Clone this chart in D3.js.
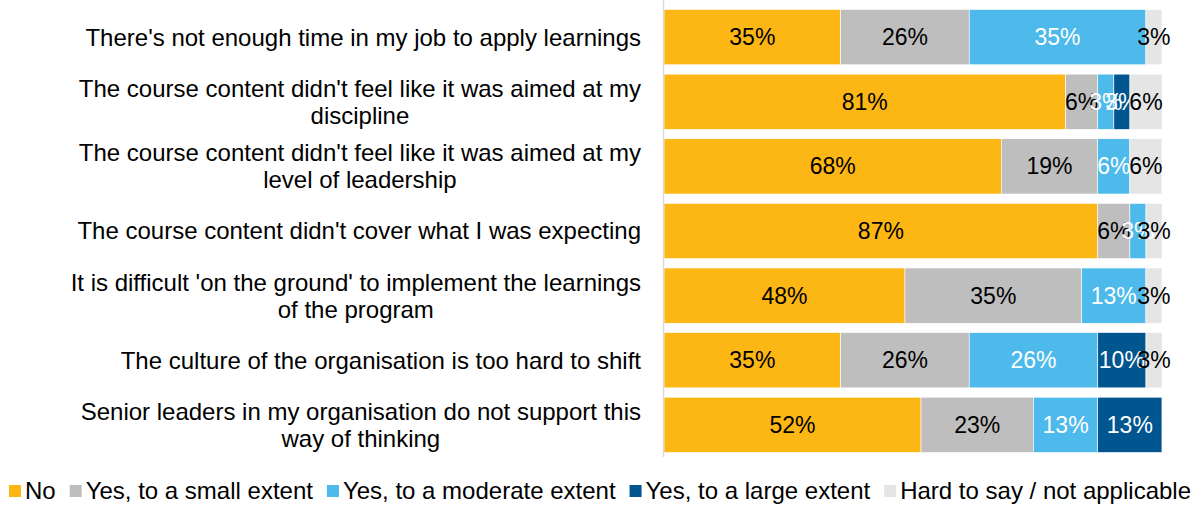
<!DOCTYPE html>
<html>
<head>
<meta charset="utf-8">
<script src="https://cdn.jsdelivr.net/npm/d3@7"></script>
<style>
  body { margin: 0; background: #fff; }
  text { font-family: "Liberation Sans", Arial, sans-serif; }
</style>
</head>
<body>
<svg></svg>
<script>
var width = 1204, height = 507;

// categories (top to bottom)
var categories = [
  "There's not enough time in my job to apply learnings",
  "The course content didn't feel like it was aimed at my discipline",
  "The course content didn't feel like it was aimed at my level of leadership",
  "The course content didn't cover what I was expecting",
  "It is difficult 'on the ground' to implement the learnings of the program",
  "The culture of the organisation is too hard to shift",
  "Senior leaders in my organisation do not support this way of thinking"
];
var seriesNames = ["No", "Yes, to a small extent", "Yes, to a moderate extent", "Yes, to a large extent", "Hard to say / not applicable"];
var colors = ["#FDB714", "#BEBEBE", "#4EB9EB", "#01568F", "#E5E5E5"];
var labelColors = ["#000", "#000", "#fff", "#fff", "#000"];

// percent per series, same order as categories
var no       = [35.48, 80.65, 67.74, 87.10, 48.39, 35.48, 51.61];
var small    = [25.81,  6.45, 19.35,  6.45, 35.48, 25.81, 22.58];
var moderate = [35.48,  3.23,  6.45,  3.23, 12.90, 25.81, 12.90];
var large    = [ 0,     3.23,  0,     0,     0,     9.68, 12.90];
var hard     = [ 3.23,  6.45,  6.45,  3.23,  3.23,  3.23,  0];

var seriesVals = [no, small, moderate, large, hard];
var table = categories.map(function(c, i) {
  var row = { cat: c };
  seriesNames.forEach(function(s, j) { row[s] = seriesVals[j][i]; });
  return row;
});

var svg = d3.select("svg").attr("width", width).attr("height", height);

var x = d3.scaleLinear().domain([0, 100]).range([664, 1162]);
var y = d3.scaleBand().domain(categories).range([5, 457]).paddingInner(0.145).paddingOuter(0.07);
var fmt = d3.format(".0f");

var stacked = d3.stack().keys(seriesNames)(table);

// bars
var layers = svg.append("g").selectAll("g")
  .data(stacked).enter().append("g")
  .attr("fill", function(d, i) { return colors[i]; });

layers.selectAll("rect")
  .data(function(d) { return d; })
  .enter().append("rect")
  .attr("x", function(d) { return x(d[0]); })
  .attr("y", function(d) { return y(d.data.cat); })
  .attr("width", function(d) { return x(d[1]) - x(d[0]); })
  .attr("height", y.bandwidth())
  .attr("stroke", "#fff")
  .attr("stroke-width", 0.6);

// value labels
stacked.forEach(function(layer, i) {
  svg.append("g").selectAll("text")
    .data(layer.filter(function(d) { return d.data[seriesNames[i]] > 0; }))
    .enter().append("text")
    .attr("x", function(d) { return (x(d[0]) + x(d[1])) / 2; })
    .attr("y", function(d) { return y(d.data.cat) + y.bandwidth() / 2; })
    .attr("dy", "0.35em")
    .attr("text-anchor", "middle")
    .attr("fill", labelColors[i])
    .style("font-size", "23px")
    .text(function(d) { return fmt(d.data[seriesNames[i]]) + "%"; });
});

// axis line
svg.append("line")
  .attr("x1", 663.5).attr("x2", 663.5)
  .attr("y1", 0).attr("y2", 457)
  .attr("stroke", "#D9D9D9").attr("stroke-width", 1.5);

// category labels, wrapped, centred lines in a block right aligned at 641
var maxW = 585, lineH = 27;
categories.forEach(function(c) {
  var g = svg.append("g");
  var t = g.append("text").style("font-size", "24px").attr("text-anchor", "middle");
  var words = c.split(" "), lines = [], cur = [];
  var probe = g.append("text").style("font-size", "24px");
  words.forEach(function(w) {
    cur.push(w);
    probe.text(cur.join(" "));
    if (probe.node().getComputedTextLength() > maxW && cur.length > 1) {
      cur.pop();
      lines.push(cur.join(" "));
      cur = [w];
    }
  });
  lines.push(cur.join(" "));
  var widths = lines.map(function(l) { probe.text(l); return probe.node().getComputedTextLength(); });
  probe.remove();
  var blockW = d3.max(widths);
  var cx = 641 - blockW / 2;
  var cy = y(c) + y.bandwidth() / 2 - (lines.length - 1) * lineH / 2;
  lines.forEach(function(l, k) {
    t.append("tspan").attr("x", cx).attr("y", cy + k * lineH).attr("dy", "0.35em").text(l);
  });
});

// legend
var legend = svg.append("g");
var lx = 0;
seriesNames.forEach(function(s, i) {
  var item = legend.append("g").attr("transform", "translate(" + lx + ",0)");
  item.append("rect").attr("x", 0).attr("y", -6).attr("width", 12).attr("height", 12).attr("fill", colors[i]);
  var tx = item.append("text").attr("x", 16).attr("y", 0).attr("dy", "0.35em")
    .style("font-size", "24px").text(s);
  lx += 16 + tx.node().getComputedTextLength() + 14;
});
var legW = lx - 14;
legend.attr("transform", "translate(" + (600 - legW / 2) + ",491)");
</script>
</body>
</html>
